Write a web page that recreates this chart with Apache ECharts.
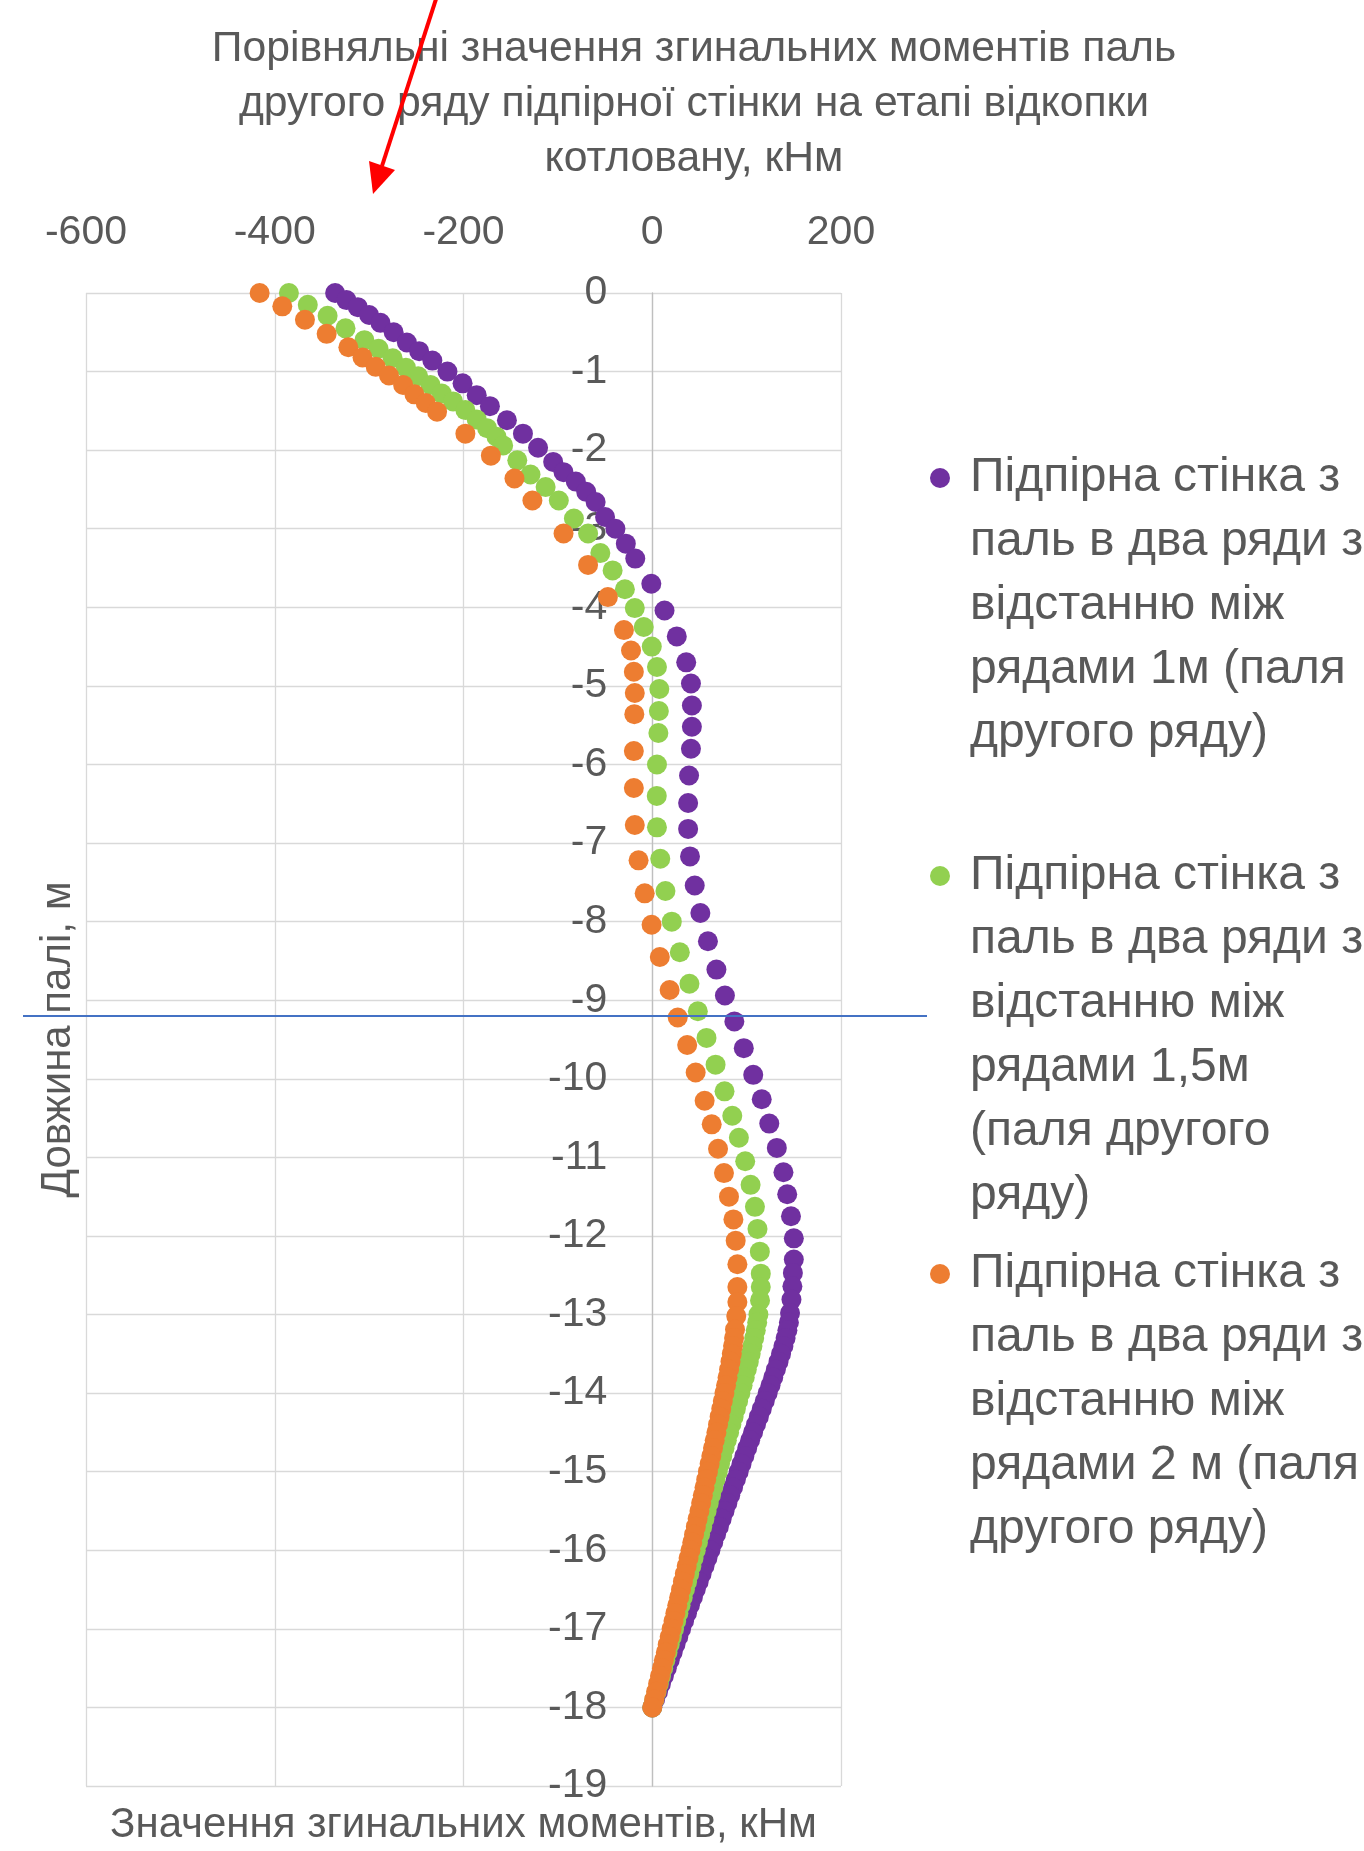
<!DOCTYPE html>
<html><head><meta charset="utf-8">
<script src="https://cdn.jsdelivr.net/npm/echarts@6/dist/echarts.min.js"></script>
<style>html,body{margin:0;padding:0;background:#fff}#c{width:1364px;height:1851px}</style>
</head><body><div id="c"></div>
<script>
const FONT = "'Liberation Sans', Arial, sans-serif";
const TXT = '#595959';

const titleLines = ['Порівняльні значення згинальних моментів паль', 'другого ряду підпірної стінки на етапі відкопки', 'котловану, кНм'];
const xAxisName = 'Значення згинальних моментів, кНм';
const yAxisName = 'Довжина палі, м';
const xTicks = [-600, -400, -200, 0, 200];
const yTicks = [0, -1, -2, -3, -4, -5, -6, -7, -8, -9, -10, -11, -12, -13, -14, -15, -16, -17, -18, -19];
const X_MIN = -600, X_MAX = 200, Y_MIN = -19, Y_MAX = 0;

const seriesNames = [
  'Підпірна стінка з паль в два ряди з відстанню між рядами 1м (паля другого ряду)',
  'Підпірна стінка з паль в два ряди з відстанню між рядами 1,5м (паля другого ряду)',
  'Підпірна стінка з паль в два ряди з відстанню між рядами 2 м (паля другого ряду)'
];
const legendLines = [
  ['Підпірна стінка з', 'паль в два ряди з', 'відстанню між', 'рядами 1м (паля', 'другого ряду)'],
  ['Підпірна стінка з', 'паль в два ряди з', 'відстанню між', 'рядами 1,5м', '(паля другого', 'ряду)'],
  ['Підпірна стінка з', 'паль в два ряди з', 'відстанню між', 'рядами 2 м (паля', 'другого ряду)']
];
const colors = ['#7030A0', '#92D050', '#ED7D31'];

// Series 1 (1 m): depth (m) and bending moment (kNm)
const depth1 = [0, -0.09, -0.18, -0.28, -0.38, -0.50, -0.63, -0.74, -0.86, -1.00, -1.15, -1.30, -1.44, -1.62, -1.79, -1.97, -2.15, -2.28, -2.40, -2.53, -2.66, -2.85, -3.00, -3.19, -3.38, -3.70, -4.04, -4.37, -4.70, -4.97, -5.25, -5.52, -5.80, -6.14, -6.49, -6.82, -7.17, -7.54, -7.89, -8.25, -8.61, -8.94, -9.27, -9.61, -9.95, -10.26, -10.57, -10.88, -11.19, -11.47, -11.75, -12.03, -12.30, -12.47, -12.64, -12.81, -12.98,
  -13.1, -13.2, -13.3, -13.4, -13.5, -13.6, -13.7, -13.8, -13.9, -14.0, -14.1, -14.2, -14.3, -14.4, -14.5, -14.6, -14.7, -14.8, -14.9, -15.0, -15.1, -15.2, -15.3, -15.4, -15.5, -15.6, -15.7, -15.8, -15.9, -16.0, -16.1, -16.2, -16.3, -16.4, -16.5, -16.6, -16.7, -16.8, -16.9, -17.0, -17.1, -17.2, -17.3, -17.4, -17.5, -17.6, -17.7, -17.8, -17.9, -18.0];
const moment1 = [-336, -324, -312, -300, -288, -274, -260, -247, -233, -217, -201, -186, -172, -154, -137, -121, -105, -94, -81, -70, -60, -50, -39, -28, -18, -1, 13, 26, 36, 41, 42, 42, 41, 39, 38, 38, 40, 45, 51, 59, 68, 77, 87, 97, 107, 116, 124, 132, 139, 143, 147, 150, 150, 149, 148.5, 147.5, 146,
  144.8, 143.2, 141.3, 139, 136.5, 133.8, 131, 128.2, 125.3, 122.3, 119.2, 116.1, 113, 109.9, 106.8, 103.7, 100.6, 97.6, 94.6, 91.6, 88.6, 85.6, 82.6, 79.6, 76.6, 73.6, 70.6, 67.6, 64.6, 61.6, 58.5, 55.4, 52.3, 49.2, 46.1, 43, 39.9, 36.8, 33.7, 30.6, 27.6, 24.6, 21.6, 18.5, 15.4, 12.3, 9.2, 6.1, 3, 0];

// Series 2 (1.5 m)
const depth2 = [0, -0.15, -0.29, -0.45, -0.60, -0.71, -0.83, -0.95, -1.06, -1.17, -1.28, -1.38, -1.49, -1.61, -1.72, -1.83, -1.94, -2.13, -2.31, -2.47, -2.64, -2.87, -3.06, -3.31, -3.53, -3.77, -4.01, -4.25, -4.50, -4.76, -5.04, -5.32, -5.60, -6.00, -6.40, -6.80, -7.20, -7.61, -8.00, -8.39, -8.79, -9.14, -9.48, -9.82, -10.16, -10.47, -10.75, -11.05, -11.35, -11.63, -11.91, -12.20, -12.48, -12.65, -12.82, -13.00,
  -13.1, -13.2, -13.3, -13.4, -13.5, -13.6, -13.7, -13.8, -13.9, -14.0, -14.1, -14.2, -14.3, -14.4, -14.5, -14.6, -14.7, -14.8, -14.9, -15.0, -15.1, -15.2, -15.3, -15.4, -15.5, -15.6, -15.7, -15.8, -15.9, -16.0, -16.1, -16.2, -16.3, -16.4, -16.5, -16.6, -16.7, -16.8, -16.9, -17.0, -17.1, -17.2, -17.3, -17.4, -17.5, -17.6, -17.7, -17.8, -17.9, -18.0];
const moment2 = [-385, -365, -344, -325, -305, -290, -275, -261, -248, -235, -223, -211, -198, -186, -175, -165, -158, -143, -129, -113, -99, -83, -68, -55, -42, -29, -18.5, -9, -0.5, 5, 7.5, 7, 6.5, 5, 4.8, 5, 8.5, 14, 20.7, 29.2, 39.4, 48.3, 57.5, 67.1, 76.6, 84.8, 91.8, 98.5, 104.2, 108.8, 111.5, 114, 115, 115, 114.2, 112.5,
  111.2, 109.7, 108, 106.2, 104.3, 102.3, 100.2, 98, 95.7, 93.4, 91, 88.6, 86.2, 83.8, 81.4, 79, 76.6, 74.2, 71.8, 69.4, 67, 64.6, 62.2, 59.9, 57.6, 55.3, 53, 50.7, 48.4, 46.1, 43.8, 41.5, 39.2, 36.9, 34.6, 32.3, 30, 27.7, 25.4, 23.1, 20.8, 18.5, 16.2, 13.9, 11.6, 9.3, 7, 4.6, 2.3, 0];

// Series 3 (2 m)
const depth3 = [0, -0.17, -0.34, -0.52, -0.69, -0.82, -0.94, -1.05, -1.17, -1.29, -1.40, -1.51, -1.79, -2.07, -2.36, -2.64, -3.06, -3.46, -3.87, -4.29, -4.55, -4.82, -5.09, -5.36, -5.83, -6.30, -6.77, -7.22, -7.64, -8.04, -8.45, -8.87, -9.22, -9.57, -9.92, -10.28, -10.58, -10.89, -11.20, -11.50, -11.79, -12.06, -12.36, -12.65, -12.84, -13.02, -13.19,
  -13.3, -13.4, -13.5, -13.6, -13.7, -13.8, -13.9, -14.0, -14.1, -14.2, -14.3, -14.4, -14.5, -14.6, -14.7, -14.8, -14.9, -15.0, -15.1, -15.2, -15.3, -15.4, -15.5, -15.6, -15.7, -15.8, -15.9, -16.0, -16.1, -16.2, -16.3, -16.4, -16.5, -16.6, -16.7, -16.8, -16.9, -17.0, -17.1, -17.2, -17.3, -17.4, -17.5, -17.6, -17.7, -17.8, -17.9, -18.0];
const moment3 = [-416, -392, -368, -345, -322, -307, -293, -279, -264, -252, -240, -228, -198, -171, -146, -127, -94, -68, -47, -30, -22.5, -19.5, -18.5, -19, -19.5, -19.5, -18.5, -14.5, -8, -0.7, 8, 18.4, 27, 37, 46, 55.5, 63, 69.7, 76, 81.3, 86, 88.4, 90.2, 90.2, 90.2, 89, 87.7,
  86.7, 85.6, 84.3, 82.9, 81.4, 79.8, 78.2, 76.5, 74.8, 73.1, 71.4, 69.7, 68, 66.2, 64.4, 62.6, 60.8, 59, 57.2, 55.4, 53.6, 51.8, 50, 48.1, 46.2, 44.3, 42.4, 40.5, 38.5, 36.5, 34.5, 32.5, 30.5, 28.5, 26.5, 24.5, 22.5, 20.5, 18.5, 16.4, 14.4, 12.3, 10.3, 8.2, 6.2, 4.1, 2.1, 0];

const markerDepth = -9.2; // blue annotation line

const depths = [depth1, depth2, depth3];
const moments = [moment1, moment2, moment3];

const GRID = {left: 86, top: 293, width: 755, height: 1493};
// y axis sits on x = 0
const yAxisOffset = -GRID.width * (0 - X_MIN) / (X_MAX - X_MIN);

const chart = echarts.init(document.getElementById('c'), null, {renderer: 'canvas'});

const LH = 64;
const legendIconY = [478, 876, 1274];
const legends = legendLines.map((lines, i) => {
  const n = lines.length;
  const text = new Array(n - 1).fill('').concat(lines).join('\n');
  return {
    data: [seriesNames[i]],
    orient: 'vertical',
    left: 930,
    top: legendIconY[i] - (2 * n - 1) * LH / 2,
    padding: 0,
    icon: 'circle',
    itemWidth: 20,
    itemHeight: 20,
    selectedMode: false,
    formatter: () => text,
    textStyle: {fontFamily: FONT, fontSize: 48, lineHeight: LH, color: TXT, padding: [0, 0, 0, 15]}
  };
});

chart.setOption({
  backgroundColor: '#ffffff',
  animation: false,
  title: {
    text: titleLines.join('\n'),
    left: 694,
    textAlign: 'center',
    top: 22,
    padding: 0,
    textStyle: {fontFamily: FONT, fontSize: 42.7, fontWeight: 'normal', color: TXT, lineHeight: 55}
  },
  legend: legends,
  grid: Object.assign({containLabel: false, outerBoundsMode: 'none'}, GRID),
  xAxis: [{
    type: 'value', position: 'top', min: X_MIN, max: X_MAX, interval: 200,
    axisLine: {show: false, onZero: false},
    axisTick: {show: false},
    splitLine: {show: true, lineStyle: {color: '#d9d9d9', width: 1.3}},
    axisLabel: {fontFamily: FONT, fontSize: 41, color: TXT, margin: 40,
      formatter: v => xTicks.includes(v) ? String(v) : ''}
  }, {
    type: 'value', position: 'bottom', min: X_MIN, max: X_MAX, interval: 200,
    axisLine: {show: false, onZero: false}, axisTick: {show: false}, axisLabel: {show: false}, splitLine: {show: false},
    name: xAxisName, nameLocation: 'middle', nameGap: 18,
    nameTextStyle: {fontFamily: FONT, fontSize: 42, color: TXT}
  }],
  yAxis: {
    type: 'value', min: Y_MIN, max: Y_MAX, interval: 1, position: 'left', offset: yAxisOffset,
    axisLine: {show: true, onZero: false, lineStyle: {color: '#bfbfbf', width: 1.3}},
    axisTick: {show: false},
    splitLine: {show: true, lineStyle: {color: '#d9d9d9', width: 1.3}},
    axisLabel: {fontFamily: FONT, fontSize: 41, color: TXT, margin: 45,
      formatter: v => yTicks.includes(v) ? String(v) : ''},
    name: yAxisName, nameLocation: 'middle', nameGap: 573, nameRotate: 90,
    nameTextStyle: {fontFamily: FONT, fontSize: 42, color: TXT}
  },
  series: seriesNames.map((name, i) => ({
    name, type: 'scatter', symbol: 'circle', symbolSize: 20,
    itemStyle: {color: colors[i], opacity: 1},
    emphasis: {disabled: true},
    data: depths[i].map((d, k) => [moments[i][k], d])
  }))
});

const yLine = chart.convertToPixel({xAxisIndex: 0, yAxisIndex: 0}, [0, markerDepth])[1];
chart.setOption({
  graphic: [
    {type: 'line', z: 100, shape: {x1: 23, y1: yLine, x2: 927, y2: yLine}, style: {stroke: '#4472C4', lineWidth: 2}},
    {type: 'line', z: 100, shape: {x1: 437, y1: -4, x2: 382, y2: 166}, style: {stroke: '#FF0000', lineWidth: 4}},
    {type: 'polygon', z: 100, shape: {points: [[373, 194], [369, 161], [395, 170]]}, style: {fill: '#FF0000'}}
  ]
});
</script></body></html>
